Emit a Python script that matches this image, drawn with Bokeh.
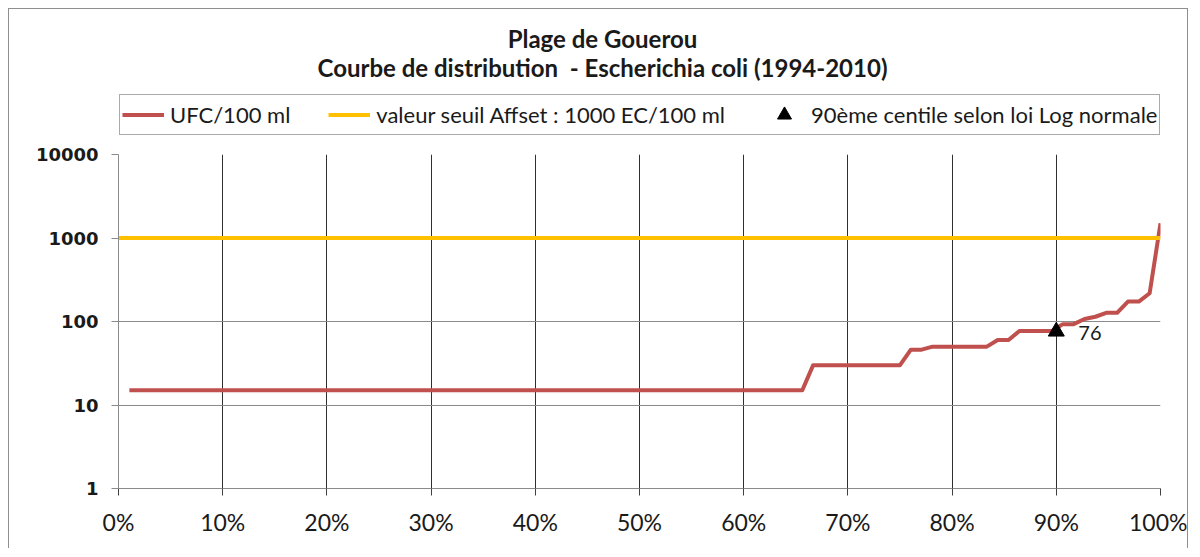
from bokeh.plotting import figure
from bokeh.layouts import column
from bokeh.models import (Range1d, FixedTicker, NumeralTickFormatter, Legend,
                          LegendItem, Label, ColumnDataSource)
from bokeh.embed import file_html
from bokeh.resources import INLINE

# ---------------- data ----------------
title_line1 = "Plage de Gouerou"
title_line2 = "Courbe de distribution\u00a0 - Escherichia coli (1994-2010)"

# sorted E. coli results (UFC/100 ml), one value per sample
ufc_sorted = ([15] * 63 + [30] * 9 + [46] * 2 + [50] * 6 + [60] * 2 + [77] * 4 +
              [93] * 2 + [107] + [114] + [127] * 2 + [173] * 2 + [218] + [1500])
seuil_affset = 1000          # valeur seuil EC/100 ml
p90_rank = 0.90              # 90eme centile
p90_value = 76               # selon loi Log normale

x_ticks = [0, 0.1, 0.2, 0.3, 0.4, 0.5, 0.6, 0.7, 0.8, 0.9, 1.0]
y_ticks = [1, 10, 100, 1000, 10000]

legend_labels = ["UFC/100 ml",
                 "valeur seuil Affset : 1000 EC/100 ml",
                 "90ème centile selon loi Log normale"]

n = len(ufc_sorted)
freq = [(i + 1) / n for i in range(n)]

RED = "#C0504D"
YELLOW = "#FFC000"
BORDER = "1px solid #8f8f8f"
FONT = "Lato"

src = ColumnDataSource(dict(x=freq, y=ufc_sorted))
seuil_src = ColumnDataSource(dict(x=[x_ticks[0], x_ticks[-1]],
                                  y=[seuil_affset, seuil_affset]))
p90_src = ColumnDataSource(dict(x=[p90_rank], y=[p90_value]))

line_ufc = dict(line_color=RED, line_width=4, line_join="round")
line_seuil = dict(line_color=YELLOW, line_width=4)
mark_p90 = dict(marker="triangle", size=16, fill_color="black",
                line_color="black")

# ---------------- header (titles + legend) ----------------
# its value range lies below the data, so the series only feed the legend here
head = figure(width=1180, height=134, x_range=Range1d(0, 1),
              y_range=Range1d(-2, -1), x_axis_type=None, y_axis_type=None,
              output_backend="svg", toolbar_location=None,
              min_border_left=0, min_border_right=0,
              min_border_top=0, min_border_bottom=0)
head.margin = (8, 0, 0, 8)
head.styles = {"border-left": BORDER, "border-top": BORDER,
               "border-right": BORDER}
head.outline_line_color = None
head.background_fill_color = "white"
head.border_fill_color = "white"

for txt, ypos in ((title_line1, 105), (title_line2, 76)):
    head.add_layout(Label(x=484, y=ypos, x_units="screen", y_units="screen",
                          text=txt, text_align="center",
                          text_baseline="middle", text_font=FONT,
                          text_font_style="bold", text_font_size="24px",
                          text_color="#1a1a1a"))

k_ufc = head.line("x", "y", source=src, **line_ufc)
k_seuil = head.line("x", "y", source=seuil_src, **line_seuil)
k_p90 = head.scatter("x", "y", source=p90_src, **mark_p90)

legend = Legend(items=[LegendItem(label=legend_labels[0], renderers=[k_ufc]),
                       LegendItem(label=legend_labels[1], renderers=[k_seuil]),
                       LegendItem(label=legend_labels[2], renderers=[k_p90])],
                orientation="horizontal", location=(1, 8),
                glyph_width=42, glyph_height=35, label_standoff=6,
                spacing=38, padding=2, margin=0,
                border_line_color="#555555", border_line_width=1.5,
                label_text_font=FONT, label_text_font_size="22px",
                label_text_color="#1a1a1a",
                background_fill_color="white", background_fill_alpha=1)
head.add_layout(legend, "center")

# ---------------- chart ----------------
p = figure(width=1180, height=406,
           x_range=Range1d(x_ticks[0], x_ticks[-1]),
           y_range=Range1d(y_ticks[0], y_ticks[-1]),
           y_axis_type="log",
           output_backend="svg", toolbar_location=None,
           min_border_left=109, min_border_right=29,
           min_border_top=12, min_border_bottom=60)
p.margin = (0, 0, 0, 8)
p.styles = {"border-left": BORDER, "border-right": BORDER}
p.outline_line_color = None
p.background_fill_color = "white"
p.border_fill_color = "white"

# grids
p.xgrid.ticker = FixedTicker(ticks=x_ticks[1:])
p.xgrid.grid_line_color = "#303030"
p.xgrid.grid_line_width = 1
p.ygrid.ticker = FixedTicker(ticks=y_ticks)
p.ygrid.grid_line_color = "#8a8a8a"
p.ygrid.grid_line_width = 1

# x axis
p.xaxis.ticker = FixedTicker(ticks=x_ticks)
p.xaxis.formatter = NumeralTickFormatter(format="0%")
p.xaxis.axis_line_color = "#8a8a8a"
p.xaxis.major_tick_line_color = "#404040"
p.xaxis.major_tick_out = 7
p.xaxis.major_tick_in = 0
p.xaxis.minor_tick_line_color = None
p.xaxis.major_label_standoff = 12
p.xaxis.major_label_text_font = FONT
p.xaxis.major_label_text_font_size = "23px"
p.xaxis.major_label_text_color = "#1a1a1a"

# y axis
p.yaxis.ticker = FixedTicker(ticks=y_ticks)
p.yaxis.formatter = NumeralTickFormatter(format="0")
p.yaxis.axis_line_color = "#8a8a8a"
p.yaxis.major_tick_line_color = "#8a8a8a"
p.yaxis.major_tick_out = 7
p.yaxis.major_tick_in = 0
p.yaxis.minor_tick_line_color = None
p.yaxis.major_label_standoff = 13
p.yaxis.major_label_text_font = "DejaVu Sans"
p.yaxis.major_label_text_font_style = "bold"
p.yaxis.major_label_text_font_size = "18px"
p.yaxis.major_label_text_color = "#1a1a1a"

# series
p.line("x", "y", source=src, **line_ufc)
p.line("x", "y", source=seuil_src, **line_seuil)
p.scatter("x", "y", source=p90_src, **mark_p90)
p.add_layout(Label(x=p90_rank, y=p90_value, x_offset=22, y_offset=-2,
                   text=str(p90_value), text_baseline="middle",
                   text_font=FONT, text_font_size="20px",
                   text_color="#1a1a1a"))

layout = column(head, p, spacing=0)
open("out.html", "w").write(file_html(layout, INLINE))
